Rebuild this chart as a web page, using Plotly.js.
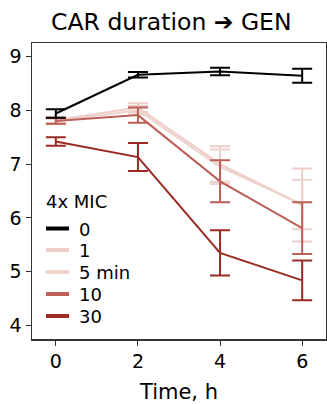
<!DOCTYPE html>
<html>
<head>
<meta charset="utf-8">
<script src="https://cdn.plot.ly/plotly-3.0.1.min.js"></script>
<style>html,body{margin:0;padding:0;background:#fff;}#chart{width:327px;height:404px;}</style>
</head>
<body>
<div id="chart"></div>
<script>
const times = [0, 2, 4, 6];
const seriesNames = ["0", "1", "5 min", "10", "30"];
const meanCtrl = [7.94, 8.66, 8.72, 8.64];
const errCtrl = [0.08, 0.05, 0.07, 0.13];
const mean1 = [7.82, 8.05, 7.0, 6.24];
const err1 = [0.06, 0.08, 0.33, 0.68];
const mean5 = [7.80, 8.00, 6.95, 6.25];
const err5 = [0.06, 0.08, 0.32, 0.46];
const mean10 = [7.80, 7.91, 6.68, 5.81];
const err10 = [0.05, 0.14, 0.39, 0.48];
const mean30 = [7.42, 7.13, 5.35, 4.84];
const err30 = [0.08, 0.26, 0.42, 0.37];
const colors = ["#000000", "#f0cdc8", "#ebd3cb", "#bb5f57", "#9b2a22"];
const means = [meanCtrl, mean1, mean5, mean10, mean30];
const errs = [errCtrl, err1, err5, err10, err30];

const order = [1, 2, 3, 4, 0];
const traces = order.map(i => ({
  x: times, y: means[i], type: 'scatter', mode: 'lines', name: seriesNames[i],
  line: {color: colors[i], width: 2},
  error_y: {type: 'data', array: errs[i], visible: true, color: colors[i], thickness: 2, width: 10},
  showlegend: false
}));

// manual legend (layout decoration)
const plotL = 32, plotW = 294, plotB = 339, plotH = 296;
const px2x = p => (p - plotL) / plotW;
const px2y = p => (plotB - p) / plotH;
const legRows = [228.5, 250, 272, 294, 316];
const shapes = [];
const annotations = [{
  xref: 'paper', yref: 'paper', x: px2x(44), y: px2y(201), xanchor: 'left', yanchor: 'middle',
  text: '4x MIC', showarrow: false, font: {size: 18}
}];
seriesNames.forEach((nm, i) => {
  shapes.push({type: 'line', xref: 'paper', yref: 'paper', x0: px2x(46), x1: px2x(69),
    y0: px2y(legRows[i]), y1: px2y(legRows[i]), line: {color: colors[i], width: 4}});
  annotations.push({xref: 'paper', yref: 'paper', x: px2x(77), y: px2y(legRows[i] + 0.5),
    xanchor: 'left', yanchor: 'middle', text: nm, showarrow: false, font: {size: 18}});
});

const layout = {
  width: 327, height: 404,
  margin: {l: 32, r: 1, t: 43, b: 65},
  paper_bgcolor: '#fff', plot_bgcolor: '#fff',
  font: {family: 'DejaVu Sans, Liberation Sans, sans-serif', color: '#000'},
  title: {text: 'CAR duration \u2794 GEN', font: {size: 23.5}, x: 0.524, xanchor: 'center', y: 0.946, yanchor: 'middle'},
  xaxis: {range: [-0.58, 6.58], tickvals: times, ticks: 'outside', ticklen: 5, tickcolor: '#333',
          showline: true, linecolor: '#333', linewidth: 1.5, mirror: true, showgrid: false, zeroline: false,
          tickfont: {size: 19}, title: {text: 'Time, h', font: {size: 21}, standoff: 15}},
  yaxis: {range: [3.75, 9.25], tickvals: [4,5,6,7,8,9], ticks: 'outside', ticklen: 5, tickcolor: '#333',
          showline: true, linecolor: '#333', linewidth: 1.5, mirror: true, showgrid: false, zeroline: false,
          tickfont: {size: 19}},
  showlegend: false,
  shapes: shapes,
  annotations: annotations
};
Plotly.newPlot('chart', traces, layout, {staticPlot: true, displayModeBar: false});
</script>
</body>
</html>
